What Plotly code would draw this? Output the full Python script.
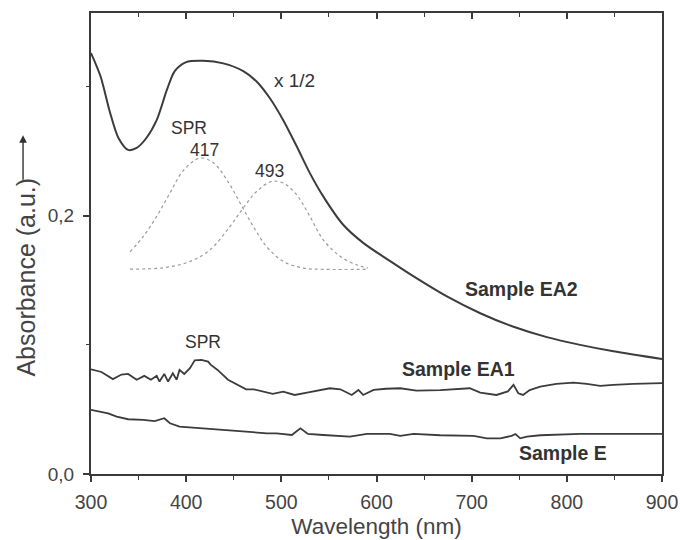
import plotly.graph_objects as go

# ---- data ----
wl_ea2 = [300, 310, 320, 329, 339, 348, 358, 369, 380, 388, 400, 418, 439, 460, 474, 488,
          502, 516, 530, 544, 565, 586, 614, 639, 674, 709, 744, 779, 814, 849, 900]
abs_ea2 = [0.326, 0.308, 0.280, 0.260, 0.251, 0.2525, 0.260, 0.274, 0.298, 0.312, 0.319, 0.320,
           0.318, 0.312, 0.304, 0.291, 0.274, 0.254, 0.233, 0.215, 0.193, 0.179, 0.165, 0.153,
           0.1375, 0.1245, 0.114, 0.106, 0.100, 0.095, 0.089]

wl_ea1 = [300, 311, 323, 332, 339, 348, 356, 363, 369, 372, 377, 381, 386, 390, 393, 398, 404,
          409, 416, 423, 426, 433, 444, 454, 463, 471, 480, 491, 502, 514, 527, 540, 551, 562,
          574, 581, 586, 597, 610, 625, 642, 667, 698, 709, 726, 738, 744, 749, 754, 761, 772,
          789, 807, 821, 835, 849, 870, 900]
abs_ea1 = [0.081, 0.079, 0.0735, 0.077, 0.0775, 0.073, 0.076, 0.073, 0.076, 0.0716, 0.0775,
           0.0716, 0.078, 0.073, 0.0806, 0.0775, 0.082, 0.088, 0.0884, 0.087, 0.0845, 0.0806,
           0.073, 0.069, 0.0656, 0.0656, 0.064, 0.062, 0.0638, 0.0612, 0.063, 0.065, 0.0664,
           0.0656, 0.0612, 0.0651, 0.0612, 0.0651, 0.066, 0.0664, 0.0646, 0.065, 0.0664, 0.063,
           0.0612, 0.064, 0.069, 0.0625, 0.0612, 0.065, 0.0677, 0.0698, 0.0708, 0.0698, 0.0682,
           0.069, 0.0698, 0.0703]

wl_e = [300, 313, 318, 327, 339, 355, 367, 377, 383, 393, 402, 411, 432, 453, 474, 485, 495,
        511, 520, 528, 544, 562, 572, 590, 614, 625, 639, 667, 702, 716, 730, 742, 746, 751,
        758, 772, 814, 900]
abs_e = [0.0496, 0.0475, 0.047, 0.0444, 0.0424, 0.0419, 0.041, 0.0432, 0.0393, 0.0367, 0.0362,
         0.0354, 0.0346, 0.0333, 0.0323, 0.0315, 0.0315, 0.0302, 0.0354, 0.031, 0.0302, 0.0295,
         0.029, 0.031, 0.031, 0.0295, 0.031, 0.030, 0.0295, 0.0276, 0.0276, 0.0295, 0.031,
         0.0276, 0.029, 0.030, 0.031, 0.031]

wl_c417 = [341, 355, 369, 383, 397, 414.5, 428.5, 442.6, 456.6, 470.5, 484.6, 502, 523, 545, 591]
abs_c417 = [0.172, 0.184, 0.1995, 0.2176, 0.235, 0.2447, 0.241, 0.228, 0.210, 0.1917, 0.176,
            0.1646, 0.1595, 0.1585, 0.1585]

wl_c493 = [341, 376, 404, 425, 446, 460, 474, 490, 502, 516, 530, 544, 562, 579, 591]
abs_c493 = [0.1587, 0.1597, 0.1646, 0.1736, 0.1917, 0.206, 0.2188, 0.2266, 0.2253, 0.2163,
            0.1995, 0.1814, 0.1685, 0.162, 0.1595]

x_ticks = [300, 400, 500, 600, 700, 800, 900]
x_minor = [350, 450, 550, 650, 750, 850]
y_ticks = [0.0, 0.2]
y_ticktext = ["0,0", "0,2"]
y_minor = [0.1, 0.3]

FONT = "Arial, Liberation Sans, sans-serif"
AX = "#3a3a3a"
LINE = "#3c3c3c"

fig = go.Figure()
fig.add_trace(go.Scatter(x=wl_ea2, y=abs_ea2, mode="lines", line=dict(color=LINE, width=2, shape="spline", smoothing=0.8)))
fig.add_trace(go.Scatter(x=wl_ea1, y=abs_ea1, mode="lines", line=dict(color=LINE, width=1.8)))
fig.add_trace(go.Scatter(x=wl_e, y=abs_e, mode="lines", line=dict(color=LINE, width=1.8)))
fig.add_trace(go.Scatter(x=wl_c417, y=abs_c417, mode="lines", xaxis="x2",
                         line=dict(color="#9c9c9c", width=1.2, dash="dot", shape="spline")))
fig.add_trace(go.Scatter(x=wl_c493, y=abs_c493, mode="lines", xaxis="x2",
                         line=dict(color="#9c9c9c", width=1.2, dash="dot", shape="spline")))

annots = [
    dict(text="x 1/2", x=514, y=0.305, font=dict(size=19)),
    dict(text="SPR", x=403, y=0.268, font=dict(size=17.5)),
    dict(text="417", x=419, y=0.251, font=dict(size=17.5)),
    dict(text="493", x=488, y=0.235, font=dict(size=17.5)),
    dict(text="SPR", x=418, y=0.102, font=dict(size=17.5)),
    dict(text="<b>Sample EA2</b>", x=752, y=0.143, font=dict(size=19.5)),
    dict(text="<b>Sample EA1</b>", x=686, y=0.081, font=dict(size=19.5)),
    dict(text="<b>Sample E</b>", x=796, y=0.016, font=dict(size=19.5)),
]
for a in annots:
    a.update(xref="x", yref="y", showarrow=False, xanchor="center", yanchor="middle")
    a["font"].update(family=FONT, color="#333")

# y title and arrow
annots.append(dict(text="Absorbance (a.u.)", xref="paper", yref="paper", x=-0.114, y=0.428,
                   textangle=-90, showarrow=False, xanchor="center", yanchor="middle",
                   font=dict(family=FONT, size=25, color="#444")))
annots.append(dict(text="", xref="paper", yref="paper", x=-0.119, y=0.735, ax=0, ay=46,
                   showarrow=True, arrowhead=2, arrowsize=1.1, arrowwidth=1.4, arrowcolor="#333"))

fig.update_layout(
    width=680, height=540,
    margin=dict(l=91, r=18, t=13, b=66, autoexpand=False),
    paper_bgcolor="white", plot_bgcolor="white",
    showlegend=False,
    font=dict(family=FONT, color="#444"),
    annotations=annots,
    xaxis=dict(range=[300, 900], tickvals=x_ticks, ticks="outside", ticklen=6, tickwidth=1.5,
               tickcolor=AX, showline=True, linecolor=AX, linewidth=2, mirror=True,
               showgrid=False, zeroline=False, tickfont=dict(size=19.5, color="#444"),
               ticklabelstandoff=4, automargin=False,
               minor=dict(tickvals=x_minor, ticks="outside", ticklen=4, tickwidth=1.3, tickcolor=AX),
               title=dict(text="Wavelength (nm)", font=dict(size=22.5, color="#444"), standoff=6)),
    xaxis2=dict(range=[300, 900], overlaying="x", side="top", tickvals=x_ticks, ticks="inside",
                ticklen=6, tickwidth=1.5, tickcolor=AX, showticklabels=False, showline=False,
                showgrid=False, zeroline=False, automargin=False,
                minor=dict(tickvals=x_minor, ticks="inside", ticklen=4, tickwidth=1.3, tickcolor=AX)),
    yaxis=dict(range=[0, 0.357], tickvals=y_ticks, ticktext=y_ticktext, ticks="outside",
               ticklen=6, tickwidth=1.5, tickcolor=AX, showline=True, linecolor=AX, linewidth=2,
               mirror=True, showgrid=False, zeroline=False, tickfont=dict(size=19, color="#444"),
               ticklabelstandoff=5, automargin=False,
               minor=dict(tickvals=y_minor, ticks="outside", ticklen=3, tickwidth=1.3, tickcolor=AX)),
)

fig.write_html("out.html", config={"displayModeBar": False},
               post_script="document.body.style.margin='0';document.body.style.overflow='hidden';")
